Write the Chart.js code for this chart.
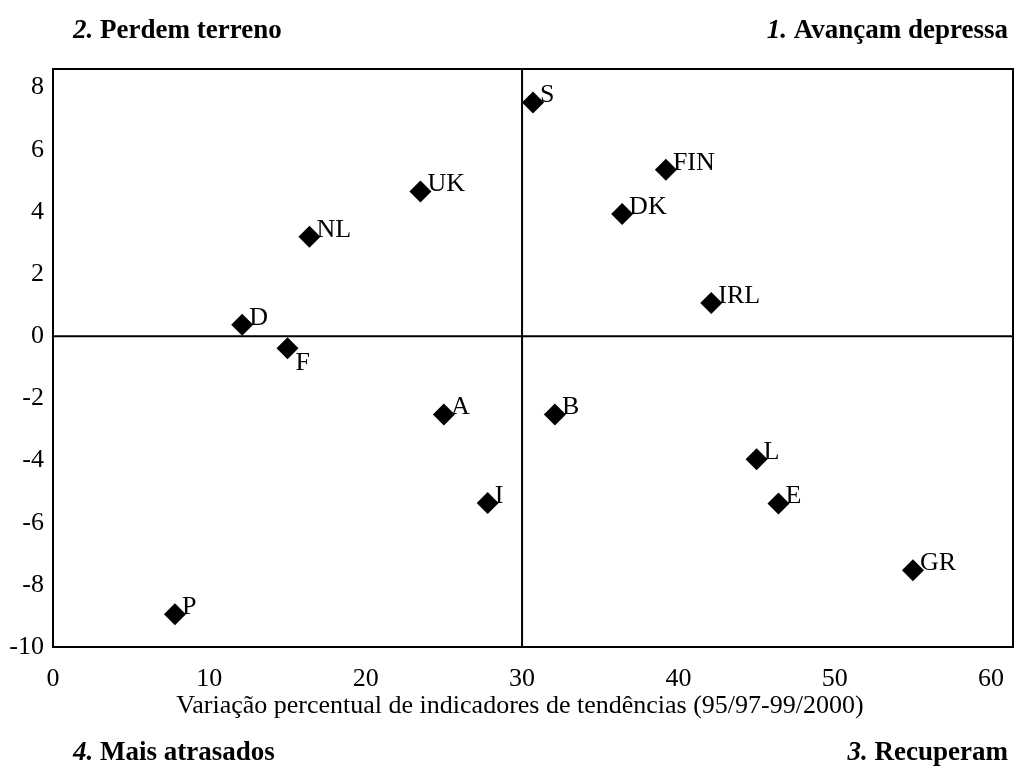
<!DOCTYPE html>
<html>
<head>
<meta charset="utf-8">
<script src="https://cdn.jsdelivr.net/npm/chart.js@4.4.1/dist/chart.umd.min.js"></script>
<style>
  html, body { margin: 0; padding: 0; background: #fff; }
  #wrap { width: 1019px; height: 776px; }
</style>
</head>
<body>
<div id="wrap"><canvas id="chart" width="1019" height="776"></canvas></div>
<script>
/* ── Data ─────────────────────────────────────────────────── */
const countries = ['S', 'FIN', 'DK', 'UK', 'NL', 'D', 'F', 'IRL', 'A', 'B', 'L', 'E', 'I', 'GR', 'P'];
const xValues   = [30.7, 39.2, 36.4, 23.5, 16.4, 12.1, 15.0, 42.1, 25.0, 32.1, 45.0, 46.4, 27.8, 55.0, 7.8];
const yValues   = [7.52, 5.36, 3.93, 4.66, 3.20, 0.37, -0.39, 1.07, -2.52, -2.52, -3.96, -5.38, -5.37, -7.53, -8.95];
const xTicks    = [0, 10, 20, 30, 40, 50, 60];
const yTicks    = [-10, -8, -6, -4, -2, 0, 2, 4, 6, 8];
const xCross    = 30;
const yCross    = 0;
const xTitle    = 'Variação percentual de indicadores de tendências (95/97-99/2000)';
const quadrants = [
  { num: '2.', text: ' Perdem terreno' },
  { num: '1.', text: ' Avançam depressa' },
  { num: '4.', text: ' Mais atrasados' },
  { num: '3.', text: ' Recuperam' }
];

const SERIF = '"Liberation Serif", "Times New Roman", serif';
const belowLabels = ['F'];

/* ── helpers ──────────────────────────────────────────────── */
function drawQuadLabel(ctx, q, x, y, align) {
  ctx.textBaseline = 'middle';
  ctx.textAlign = 'left';
  const fNum = `bold italic 27px ${SERIF}`;
  const fTxt = `bold 27px ${SERIF}`;
  ctx.font = fNum; const w1 = ctx.measureText(q.num).width;
  ctx.font = fTxt; const w2 = ctx.measureText(q.text).width;
  const x0 = align === 'right' ? x - w1 - w2 : x;
  ctx.font = fNum; ctx.fillText(q.num, x0, y);
  ctx.font = fTxt; ctx.fillText(q.text, x0 + w1, y);
}

/* ── Plugin: frame, cross lines, labels ───────────────────── */
const decor = {
  id: 'decor',
  beforeDatasetsDraw(chart) {
    const { ctx, chartArea: a, scales } = chart;
    const cx = scales.x.getPixelForValue(xCross);
    const cy = scales.y.getPixelForValue(yCross);
    ctx.save();
    ctx.strokeStyle = '#000';
    ctx.lineWidth = 2;
    ctx.strokeRect(a.left, a.top, a.right - a.left, a.bottom - a.top);
    ctx.beginPath();
    ctx.moveTo(cx, a.top); ctx.lineTo(cx, a.bottom);
    ctx.moveTo(a.left, cy); ctx.lineTo(a.right, cy);
    ctx.stroke();
    ctx.restore();
  },
  afterDatasetsDraw(chart) {
    const { ctx } = chart;
    const meta = chart.getDatasetMeta(0);
    ctx.save();
    ctx.fillStyle = '#000';
    ctx.font = `26px ${SERIF}`;
    ctx.textAlign = 'left';
    ctx.textBaseline = 'middle';
    meta.data.forEach((pt, i) => {
      const name = countries[i];
      if (belowLabels.includes(name)) ctx.fillText(name, pt.x + 8, pt.y + 15);
      else ctx.fillText(name, pt.x + 7, pt.y - 7);
    });

    ctx.textAlign = 'center';
    ctx.font = `26px ${SERIF}`;
    ctx.fillText(xTitle, 520, 706);

    drawQuadLabel(ctx, quadrants[0], 73, 31, 'left');
    drawQuadLabel(ctx, quadrants[1], 1008, 31, 'right');
    drawQuadLabel(ctx, quadrants[2], 73, 753, 'left');
    drawQuadLabel(ctx, quadrants[3], 1008, 753, 'right');
    ctx.restore();
  }
};

/* ── Chart ────────────────────────────────────────────────── */
new Chart(document.getElementById('chart').getContext('2d'), {
  type: 'scatter',
  data: {
    datasets: [{
      data: countries.map((c, i) => ({ x: xValues[i], y: yValues[i] })),
      pointStyle: 'rectRot',
      pointRadius: 11,
      pointHoverRadius: 11,
      pointBackgroundColor: '#000',
      pointBorderColor: '#000',
      pointBorderWidth: 0
    }]
  },
  options: {
    responsive: false,
    animation: false,
    events: [],
    layout: { autoPadding: false, padding: { top: 69, right: 6, left: 0, bottom: 0 } },
    plugins: { legend: { display: false }, tooltip: { enabled: false } },
    scales: {
      x: {
        type: 'linear',
        min: 0,
        max: 61.4,
        afterBuildTicks: s => { s.ticks = xTicks.map(v => ({ value: v })); },
        afterFit: s => { s.height = 129; s.paddingLeft = 0; s.paddingRight = 0; },
        grid: { display: false, drawTicks: false },
        border: { display: false },
        ticks: {
          color: '#000',
          padding: 17,
          maxRotation: 0,
          autoSkip: false,
          font: { family: SERIF, size: 26 }
        }
      },
      y: {
        type: 'linear',
        min: -10,
        max: 8.6,
        afterBuildTicks: s => { s.ticks = yTicks.map(v => ({ value: v })); },
        afterFit: s => { s.width = 53; s.paddingTop = 0; s.paddingBottom = 0; },
        grid: { display: false, drawTicks: false },
        border: { display: false },
        ticks: {
          color: '#000',
          padding: 9,
          autoSkip: false,
          font: { family: SERIF, size: 26 }
        }
      }
    }
  },
  plugins: [decor]
});
</script>
</body>
</html>
